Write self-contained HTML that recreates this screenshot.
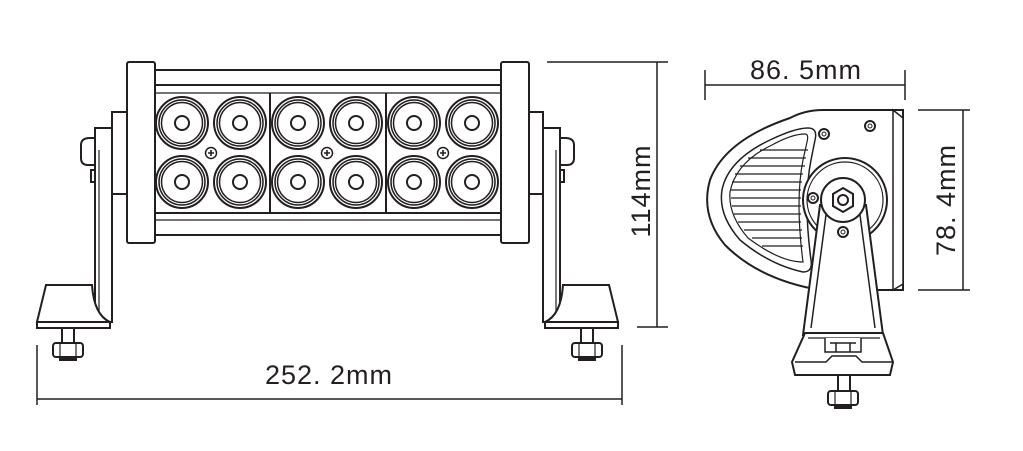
<!DOCTYPE html>
<html><head><meta charset="utf-8"><style>
html,body{margin:0;padding:0;background:#fff;}
svg{display:block;}
text{font-family:"Liberation Sans",sans-serif;fill:#231f20;letter-spacing:1px;}
</style></head><body>
<svg width="1023" height="451" viewBox="0 0 1023 451" xmlns="http://www.w3.org/2000/svg">
<defs>
<g id="led">
<circle r="26" fill="#fff" stroke="#231f20" stroke-width="2"/>
<circle r="23" fill="none" stroke="#231f20" stroke-width="1.5"/>
<circle r="20.5" fill="none" stroke="#231f20" stroke-width="1.5"/>
<circle r="7" fill="none" stroke="#231f20" stroke-width="2"/>
</g>
<g id="screw">
<circle r="5.5" fill="none" stroke="#231f20" stroke-width="1.5"/>
<path d="M-3 0H3M0 -3V3" stroke="#231f20" stroke-width="1.6"/>
</g>
<g id="bracket" fill="#fff" stroke="#231f20" stroke-width="2">
<rect x="112" y="112" width="15" height="82"/>
<path d="M81 145 Q81 138 90 138 H95 V165 H88 Q81 165 81 158 Z"/>
<rect x="91" y="170" width="4" height="12"/>
<rect x="95" y="128" width="17" height="194"/>
<line x1="99" y1="150" x2="99" y2="322" stroke-width="1.2"/>
<path d="M46 285 H92 Q94 315 110 322 H37 Z"/>
<rect x="37" y="322" width="73" height="6"/>
<rect x="62" y="328" width="12" height="15"/>
<rect x="53" y="343" width="30" height="14" rx="3"/>
<line x1="60" y1="343" x2="60" y2="357" stroke-width="1.2"/>
<line x1="76" y1="343" x2="76" y2="357" stroke-width="1.2"/>
<rect x="60" y="357" width="16" height="3" fill="#231f20"/>
</g>
</defs>

<use href="#bracket"/>
<use href="#bracket" transform="translate(655,0) scale(-1,1)"/>

<g fill="#fff" stroke="#231f20" stroke-width="2">
<rect x="155" y="70" width="346" height="165"/>
<line x1="155" y1="85" x2="501" y2="85"/>
<line x1="155" y1="93" x2="501" y2="93" stroke-width="1.2"/>
<line x1="155" y1="213" x2="501" y2="213"/>
<line x1="155" y1="220" x2="501" y2="220" stroke-width="1.2"/>
<line x1="270" y1="93" x2="270" y2="213"/>
<line x1="386" y1="93" x2="386" y2="213"/>
<rect x="127" y="62" width="28" height="181" rx="2"/>
<rect x="501" y="62" width="28" height="181" rx="2"/>
</g>
<g>
<use href="#led" x="182" y="123"/><use href="#led" x="240" y="123"/>
<use href="#led" x="298" y="123"/><use href="#led" x="356" y="123"/>
<use href="#led" x="414" y="123"/><use href="#led" x="472" y="123"/>
<use href="#led" x="182" y="182"/><use href="#led" x="240" y="182"/>
<use href="#led" x="298" y="182"/><use href="#led" x="356" y="182"/>
<use href="#led" x="414" y="182"/><use href="#led" x="472" y="182"/>
<use href="#screw" x="211" y="153"/><use href="#screw" x="327" y="153"/><use href="#screw" x="443" y="153"/>
</g>

<g stroke="#231f20" stroke-width="1.5" fill="none">
<line x1="547" y1="62" x2="668" y2="62"/>
<line x1="637" y1="327" x2="668" y2="327"/>
<line x1="657" y1="62" x2="657" y2="327"/>
<line x1="37" y1="345" x2="37" y2="405"/>
<line x1="622" y1="345" x2="622" y2="405"/>
<line x1="37" y1="399" x2="622" y2="399"/>
<line x1="705" y1="70" x2="705" y2="100"/>
<line x1="905" y1="70" x2="905" y2="100"/>
<line x1="705" y1="85" x2="905" y2="85"/>
<line x1="918" y1="110" x2="970" y2="110"/>
<line x1="918" y1="290" x2="970" y2="290"/>
<line x1="963" y1="110" x2="963" y2="290"/>
</g>
<text x="329" y="384" font-size="27" text-anchor="middle">252. 2mm</text>
<text transform="translate(650,191) rotate(-90)" font-size="27" text-anchor="middle">114mm</text>
<text x="806" y="79" font-size="27" text-anchor="middle">86. 5mm</text>
<text transform="translate(955,200) rotate(-90)" font-size="27" text-anchor="middle">78. 4mm</text>

<!-- side view -->
<g fill="#fff" stroke="#231f20" stroke-width="2">
<path d="M823 110 H903 V290 H820 Q760 280 725 245 Q700 215 710 180 Q725 140 790 118 Q805 110 823 110 Z"/>
<path d="M893 110 L903 118 V284 L893 290 Z" stroke-width="1.5"/>
<path d="M808 128 Q818 128 815 140 L811 160 Q803 200 811 260 Q813 272 803 272 Q770 265 740 240 Q718 215 722 190 Q728 160 770 140 Q795 128 808 128 Z" stroke-width="1.5"/>
<path d="M805 134 Q809 134 807 142 L803 160 Q795 200 803 262 Q780 262 748 238 Q728 215 730 192 Q736 162 772 145 Q792 134 805 134 Z" stroke-width="1.2"/>
</g>
<g stroke="#231f20" stroke-width="1.2">
<line x1="760" y1="150" x2="808" y2="150"/><line x1="748" y1="158" x2="806" y2="158"/>
<line x1="740" y1="166" x2="805" y2="166"/><line x1="735" y1="174" x2="803" y2="174"/>
<line x1="732" y1="182" x2="802" y2="182"/><line x1="731" y1="190" x2="801" y2="190"/>
<line x1="731" y1="198" x2="801" y2="198"/><line x1="732" y1="206" x2="801" y2="206"/>
<line x1="734" y1="214" x2="801" y2="214"/><line x1="738" y1="222" x2="801" y2="222"/>
<line x1="744" y1="230" x2="802" y2="230"/><line x1="752" y1="238" x2="802" y2="238"/>
<line x1="762" y1="246" x2="803" y2="246"/>
</g>
<g fill="#fff" stroke="#231f20" stroke-width="2">
<circle cx="824" cy="134" r="5"/><circle cx="824" cy="134" r="2" stroke-width="1"/>
<circle cx="870" cy="126" r="5"/><circle cx="870" cy="126" r="2" stroke-width="1"/>
<circle cx="845" cy="200" r="42"/>
<circle cx="845" cy="200" r="38" stroke-width="1.2"/>
<circle cx="813" cy="198" r="5"/><circle cx="813" cy="198" r="2" stroke-width="1"/>
<!-- stand -->
<path d="M803 335 L820 205 H866 L883 335 Z"/>
<path d="M811 328 L826 215 M875 328 L860 215" stroke-width="1.5"/>
<path d="M805 333 H883 L893 362 L890 375 H795 L792 362 Z"/>
<line x1="808" y1="338" x2="880" y2="338" stroke-width="1.2"/>
<path d="M825 338 V352 H861 V338 M830 343 H856 M836 343 V352 M850 343 V352" stroke-width="1.5"/>
<path d="M795 362 H826 L832 356 H856 L862 362 H893" stroke-width="1.5"/>
<circle cx="843" cy="200" r="22"/>
<path d="M843 188 L853 194 V206 L843 212 L833 206 V194 Z"/>
<circle cx="843" cy="200" r="5"/>
<circle cx="843" cy="232" r="5"/><circle cx="843" cy="232" r="2" stroke-width="1"/>
<rect x="838" y="375" width="12" height="16"/>
<rect x="828" y="391" width="30" height="14" rx="3"/>
<line x1="835" y1="391" x2="835" y2="405" stroke-width="1.2"/>
<line x1="851" y1="391" x2="851" y2="405" stroke-width="1.2"/>
<rect x="835" y="405" width="16" height="3" fill="#231f20"/>
</g>
</svg>
</body></html>
